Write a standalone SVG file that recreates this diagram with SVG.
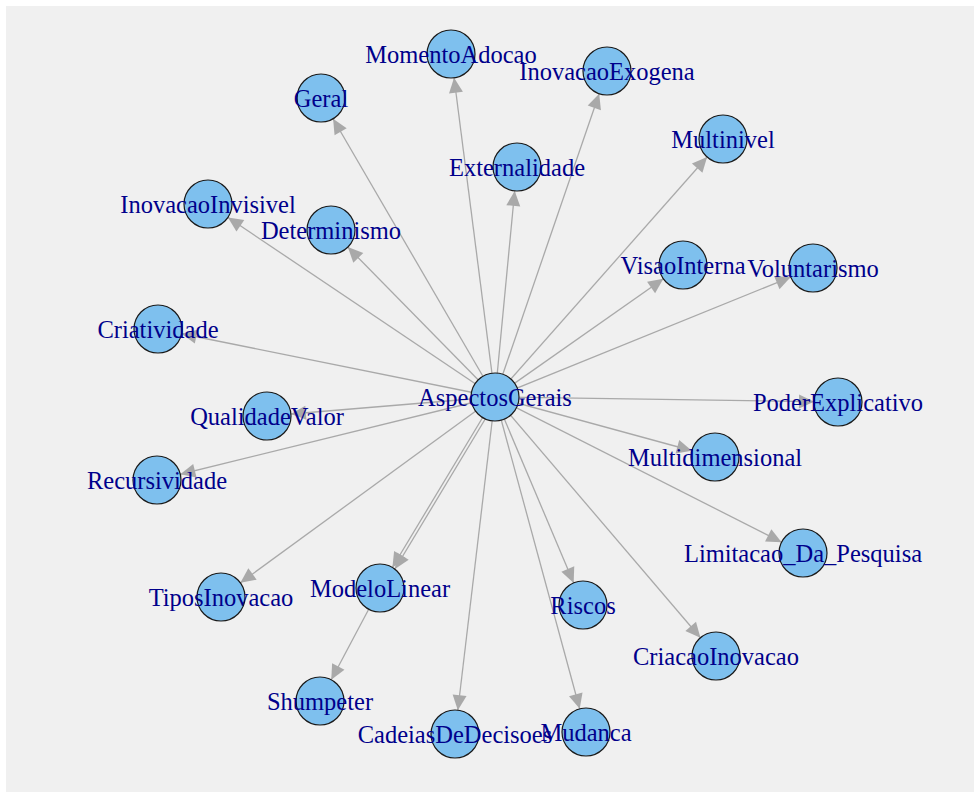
<svg xmlns="http://www.w3.org/2000/svg" width="974" height="792" viewBox="0 0 974 792">
  <style>
    .edge { stroke: #A9A9A9; stroke-width: 1.3; fill: none; marker-end: url(#arrow); }
    .node circle { fill: #7EC0EE; stroke: #1a1a1a; stroke-width: 1.2; }
    .node text { font-family: "Liberation Serif", "Times New Roman", serif; font-size: 24.5px; fill: #00008B; text-anchor: middle; }
  </style>
  <defs>
    <!-- arrowhead tip sits 24px (node radius) before the path end -->
    <marker id="arrow" markerUnits="userSpaceOnUse" markerWidth="16" markerHeight="14" refX="39" refY="7" orient="auto" overflow="visible">
      <path d="M0,0 L15,7 L0,14 z" fill="#A9A9A9"/>
    </marker>
  </defs>

  <rect x="0" y="0" width="974" height="792" fill="#ffffff"/>
  <rect x="6" y="6" width="968" height="786" fill="#F0F0F0"/>

  <g id="connectors">
    <line class="edge" x1="495" y1="397" x2="321" y2="98"/>
    <line class="edge" x1="495" y1="397" x2="208" y2="204"/>
    <line class="edge" x1="495" y1="397" x2="331" y2="230"/>
    <line class="edge" x1="495" y1="397" x2="451" y2="54"/>
    <line class="edge" x1="495" y1="397" x2="607" y2="71"/>
    <line class="edge" x1="495" y1="397" x2="517" y2="167"/>
    <line class="edge" x1="495" y1="397" x2="723" y2="139"/>
    <line class="edge" x1="495" y1="397" x2="683" y2="265"/>
    <line class="edge" x1="495" y1="397" x2="813" y2="268"/>
    <line class="edge" x1="495" y1="397" x2="838" y2="402"/>
    <line class="edge" x1="495" y1="397" x2="715" y2="457"/>
    <line class="edge" x1="495" y1="397" x2="803" y2="553"/>
    <line class="edge" x1="495" y1="397" x2="716" y2="656"/>
    <line class="edge" x1="495" y1="397" x2="583" y2="605"/>
    <line class="edge" x1="495" y1="397" x2="586" y2="732"/>
    <line class="edge" x1="495" y1="397" x2="455" y2="734"/>
    <!-- two parallel edges to ModeloLinear -->
    <line class="edge" x1="495" y1="397" x2="380" y2="588"/>
    <line class="edge" x1="497.6" y1="398.5" x2="382.6" y2="589.5"/>
    <line class="edge" x1="495" y1="397" x2="221" y2="597"/>
    <line class="edge" x1="495" y1="397" x2="157" y2="480"/>
    <line class="edge" x1="495" y1="397" x2="267" y2="416"/>
    <line class="edge" x1="495" y1="397" x2="158" y2="329"/>
    <line class="edge" x1="380" y1="588" x2="320" y2="701"/>
  </g>

  <g id="AspectosGerais" class="node"><circle cx="495" cy="397" r="24"/><text x="495" y="405.5">AspectosGerais</text></g>
  <g id="Geral" class="node"><circle cx="321" cy="98" r="24"/><text x="321" y="106.5">Geral</text></g>
  <g id="InovacaoInvisivel" class="node"><circle cx="208" cy="204" r="24"/><text x="208" y="212.5">InovacaoInvisivel</text></g>
  <g id="Determinismo" class="node"><circle cx="331" cy="230" r="24"/><text x="331" y="238.5">Determinismo</text></g>
  <g id="MomentoAdocao" class="node"><circle cx="451" cy="54" r="24"/><text x="451" y="62.5">MomentoAdocao</text></g>
  <g id="InovacaoExogena" class="node"><circle cx="607" cy="71" r="24"/><text x="607" y="79.5">InovacaoExogena</text></g>
  <g id="Externalidade" class="node"><circle cx="517" cy="167" r="24"/><text x="517" y="175.5">Externalidade</text></g>
  <g id="Multinivel" class="node"><circle cx="723" cy="139" r="24"/><text x="723" y="147.5">Multinivel</text></g>
  <g id="VisaoInterna" class="node"><circle cx="683" cy="265" r="24"/><text x="683" y="273.5">VisaoInterna</text></g>
  <g id="Voluntarismo" class="node"><circle cx="813" cy="268" r="24"/><text x="813" y="276.5">Voluntarismo</text></g>
  <g id="PoderExplicativo" class="node"><circle cx="838" cy="402" r="24"/><text x="838" y="410.5">PoderExplicativo</text></g>
  <g id="Multidimensional" class="node"><circle cx="715" cy="457" r="24"/><text x="715" y="465.5">Multidimensional</text></g>
  <g id="Limitacao_Da_Pesquisa" class="node"><circle cx="803" cy="553" r="24"/><text x="803" y="561.5">Limitacao_Da_Pesquisa</text></g>
  <g id="CriacaoInovacao" class="node"><circle cx="716" cy="656" r="24"/><text x="716" y="664.5">CriacaoInovacao</text></g>
  <g id="Riscos" class="node"><circle cx="583" cy="605" r="24"/><text x="583" y="613.5">Riscos</text></g>
  <g id="Mudanca" class="node"><circle cx="586" cy="732" r="24"/><text x="586" y="740.5">Mudanca</text></g>
  <g id="CadeiasDeDecisoes" class="node"><circle cx="455" cy="734" r="24"/><text x="455" y="742.5">CadeiasDeDecisoes</text></g>
  <g id="ModeloLinear" class="node"><circle cx="380" cy="588" r="24"/><text x="380" y="596.5">ModeloLinear</text></g>
  <g id="Shumpeter" class="node"><circle cx="320" cy="701" r="24"/><text x="320" y="709.5">Shumpeter</text></g>
  <g id="TiposInovacao" class="node"><circle cx="221" cy="597" r="24"/><text x="221" y="605.5">TiposInovacao</text></g>
  <g id="Recursividade" class="node"><circle cx="157" cy="480" r="24"/><text x="157" y="488.5">Recursividade</text></g>
  <g id="QualidadeValor" class="node"><circle cx="267" cy="416" r="24"/><text x="267" y="424.5">QualidadeValor</text></g>
  <g id="Criatividade" class="node"><circle cx="158" cy="329" r="24"/><text x="158" y="337.5">Criatividade</text></g>
</svg>
